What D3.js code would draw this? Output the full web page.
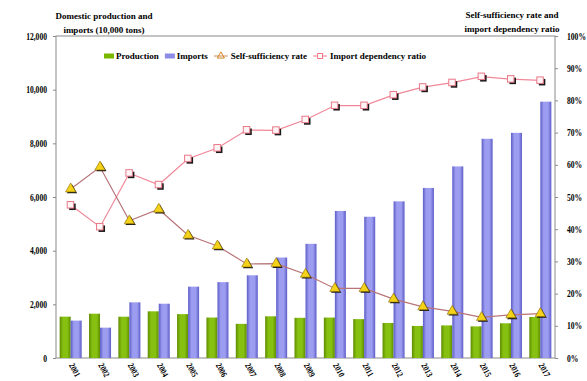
<!DOCTYPE html>
<html>
<head>
<meta charset="utf-8">
<script src="https://cdn.jsdelivr.net/npm/d3@7"></script>
<style>
  html, body { margin: 0; padding: 0; background: #fff; }
  svg { display: block; }
  text { font-family: "Liberation Serif", "Times New Roman", serif; font-weight: bold; fill: #000; }
</style>
</head>
<body>
<svg id="chart" width="587" height="381"></svg>
<script>
// Soybean supply: domestic production vs imports (10,000 tons) and the two ratios (%)
const years = ["2001","2002","2003","2004","2005","2006","2007","2008","2009",
               "2010","2011","2012","2013","2014","2015","2016","2017"];
const production = [1541,1651,1539,1740,1635,1508,1273,1554,1498,1508,1449,1305,1195,1215,1179,1294,1528];
const imports    = [1394,1131,2074,2023,2659,2827,3082,3744,4255,5480,5264,5838,6338,7140,8169,8391,9553];
const selfSufficiency  = [52.5,59.3,42.6,46.2,38.1,34.8,29.2,29.3,26.0,21.6,21.6,18.3,15.9,14.5,12.6,13.4,13.8];
const importDependency = [47.5,40.7,57.4,53.8,61.9,65.2,70.8,70.7,74.0,78.4,78.4,81.7,84.1,85.5,87.4,86.6,86.2];
const leftTicks  = [0,2000,4000,6000,8000,10000,12000];
const rightTicks = [0,10,20,30,40,50,60,70,80,90,100];

const svg = d3.select("#chart");
const plotLeft = 56, plotRight = 555, plotTop = 36, plotBottom = 358;

const x = d3.scaleBand().domain(years).range([plotLeft, plotRight]).paddingInner(0.25).paddingOuter(0.125);
const xs = d3.scaleBand().domain(["production","imports"]).range([0, x.bandwidth()]);
const yL = d3.scaleLinear().domain([0, 12000]).range([plotBottom, plotTop]);
const yR = d3.scaleLinear().domain([0, 100]).range([plotBottom, plotTop]);

// bar gradients: darker edges, lighter middle
const defs = svg.append("defs");
function barGradient(id, edge, mid) {
  const g = defs.append("linearGradient").attr("id", id).attr("x1", 0).attr("x2", 1).attr("y1", 0).attr("y2", 0);
  g.append("stop").attr("offset", "0%").attr("stop-color", edge);
  g.append("stop").attr("offset", "30%").attr("stop-color", mid);
  g.append("stop").attr("offset", "70%").attr("stop-color", mid);
  g.append("stop").attr("offset", "100%").attr("stop-color", edge);
}
barGradient("gProd", "#5e8c00", "#86c010");
barGradient("gImp", "#5c5cc8", "#9c9cf0");

// plot frame
svg.append("rect").attr("x", plotLeft).attr("y", plotTop)
  .attr("width", plotRight - plotLeft).attr("height", plotBottom - plotTop)
  .attr("fill", "none").attr("stroke", "#8a8a8a").attr("stroke-width", 1);

// bars
const groups = svg.append("g").selectAll("g").data(years).join("g")
  .attr("transform", d => `translate(${x(d)},0)`);
groups.append("rect")
  .attr("x", xs("production")).attr("width", xs.bandwidth())
  .attr("y", (d, i) => yL(production[i])).attr("height", (d, i) => yL(0) - yL(production[i]))
  .attr("fill", "url(#gProd)");
groups.append("rect")
  .attr("x", xs("imports")).attr("width", xs.bandwidth())
  .attr("y", (d, i) => yL(imports[i])).attr("height", (d, i) => yL(0) - yL(imports[i]))
  .attr("fill", "url(#gImp)");

// condensed serif text helper
const SX = 0.8;
function condense(sel) {
  sel.each(function () {
    const t = d3.select(this);
    const xv = +t.attr("x") || 0;
    t.attr("x", xv / SX).attr("transform", `scale(${SX},1)`);
  });
}

// left axis
const axL = svg.append("g").attr("transform", `translate(${plotLeft},0)`)
  .call(d3.axisLeft(yL).tickValues(leftTicks).tickFormat(d3.format(",")).tickSize(3).tickPadding(6));
axL.select(".domain").remove();
axL.selectAll("line").attr("stroke", "#8a8a8a");
axL.selectAll("text").attr("font-size", 9.5).attr("font-family", null);
condense(axL.selectAll("text"));

// right axis
const axR = svg.append("g").attr("transform", `translate(${plotRight},0)`)
  .call(d3.axisRight(yR).tickValues(rightTicks).tickFormat(d => d + "%").tickSize(3).tickPadding(9));
axR.select(".domain").remove();
axR.selectAll("line").attr("stroke", "#8a8a8a");
axR.selectAll("text").attr("font-size", 9.5).attr("font-family", null);
condense(axR.selectAll("text"));

// x category labels, slanted
svg.append("g").selectAll("text").data(years).join("text")
  .attr("transform", d => `translate(${x(d) + x.bandwidth() / 2 - 2},${plotBottom + 7}) rotate(62) scale(${SX},1)`)
  .attr("font-size", 9).attr("font-weight", "normal").attr("fill", "#333")
  .text(d => d);

// line series
const cx = (d, i) => x(years[i]) + x.bandwidth() / 2;
const lineR = d3.line().x((d, i) => cx(d, i)).y(d => yR(d));

svg.append("path").datum(importDependency).attr("d", lineR)
  .attr("fill", "none").attr("stroke", "#f08898").attr("stroke-width", 1.2);
svg.append("path").datum(selfSufficiency).attr("d", lineR)
  .attr("fill", "none").attr("stroke", "#b87478").attr("stroke-width", 1.2);

const tri = d3.symbol().type(d3.symbolTriangle).size(46);
function drawTriangle(g, px, py) {
  g.append("path").attr("d", tri()).attr("transform", `translate(${px + 1.3},${py + 1.3})`).attr("fill", "#1a1a1a");
  g.append("path").attr("d", tri()).attr("transform", `translate(${px},${py})`)
    .attr("fill", "#f4d21a").attr("stroke", "#8a6a00").attr("stroke-width", 0.6);
}
function drawSquare(g, px, py) {
  g.append("rect").attr("x", px - 3 + 1.5).attr("y", py - 3 + 1.5).attr("width", 6.5).attr("height", 6.5).attr("fill", "#1a1a1a");
  g.append("rect").attr("x", px - 3.5).attr("y", py - 3.5).attr("width", 6.5).attr("height", 6.5)
    .attr("fill", "#fff4f6").attr("stroke", "#e87888").attr("stroke-width", 1);
}

const mk = svg.append("g");
importDependency.forEach((v, i) => drawSquare(mk, cx(v, i), yR(v)));
selfSufficiency.forEach((v, i) => drawTriangle(mk, cx(v, i), yR(v)));

// legend
const lg = svg.append("g");
const ly = 56;
let lx = 104;
function legendText(label) {
  const t = lg.append("text").attr("x", lx).attr("y", ly + 3).attr("font-size", 9).text(label);
  lx += t.node().getComputedTextLength() + 6;
}
lg.append("rect").attr("x", lx).attr("y", ly - 2.5).attr("width", 10).attr("height", 5).attr("fill", "#7ab800");
lx += 12; legendText("Production");
lg.append("rect").attr("x", lx).attr("y", ly - 2.5).attr("width", 10).attr("height", 5).attr("fill", "#8c8ce8");
lx += 12; legendText("Imports");
lg.append("line").attr("x1", lx).attr("x2", lx + 14).attr("y1", ly).attr("y2", ly).attr("stroke", "#d08860");
lg.append("path").attr("d", d3.symbol().type(d3.symbolTriangle).size(22)())
  .attr("transform", `translate(${lx + 7},${ly})`).attr("fill", "none").attr("stroke", "#d08820").attr("stroke-width", 1);
lx += 17; legendText("Self-sufficiency rate");
lg.append("line").attr("x1", lx).attr("x2", lx + 14).attr("y1", ly).attr("y2", ly).attr("stroke", "#f07888");
lg.append("rect").attr("x", lx + 4.5).attr("y", ly - 2.5).attr("width", 5).attr("height", 5)
  .attr("fill", "#fff").attr("stroke", "#f07888");
lx += 17; legendText("Import dependency ratio");

// axis titles
const titleL = svg.append("text").attr("font-size", 9).attr("text-anchor", "middle");
titleL.append("tspan").attr("x", 104).attr("y", 19).text("Domestic production and");
titleL.append("tspan").attr("x", 104).attr("y", 33).text("imports (10,000 tons)");
const titleR = svg.append("text").attr("font-size", 9).attr("text-anchor", "middle");
titleR.append("tspan").attr("x", 512).attr("y", 18).text("Self-sufficiency rate and");
titleR.append("tspan").attr("x", 512).attr("y", 32).text("import dependency ratio");
</script>
</body>
</html>
